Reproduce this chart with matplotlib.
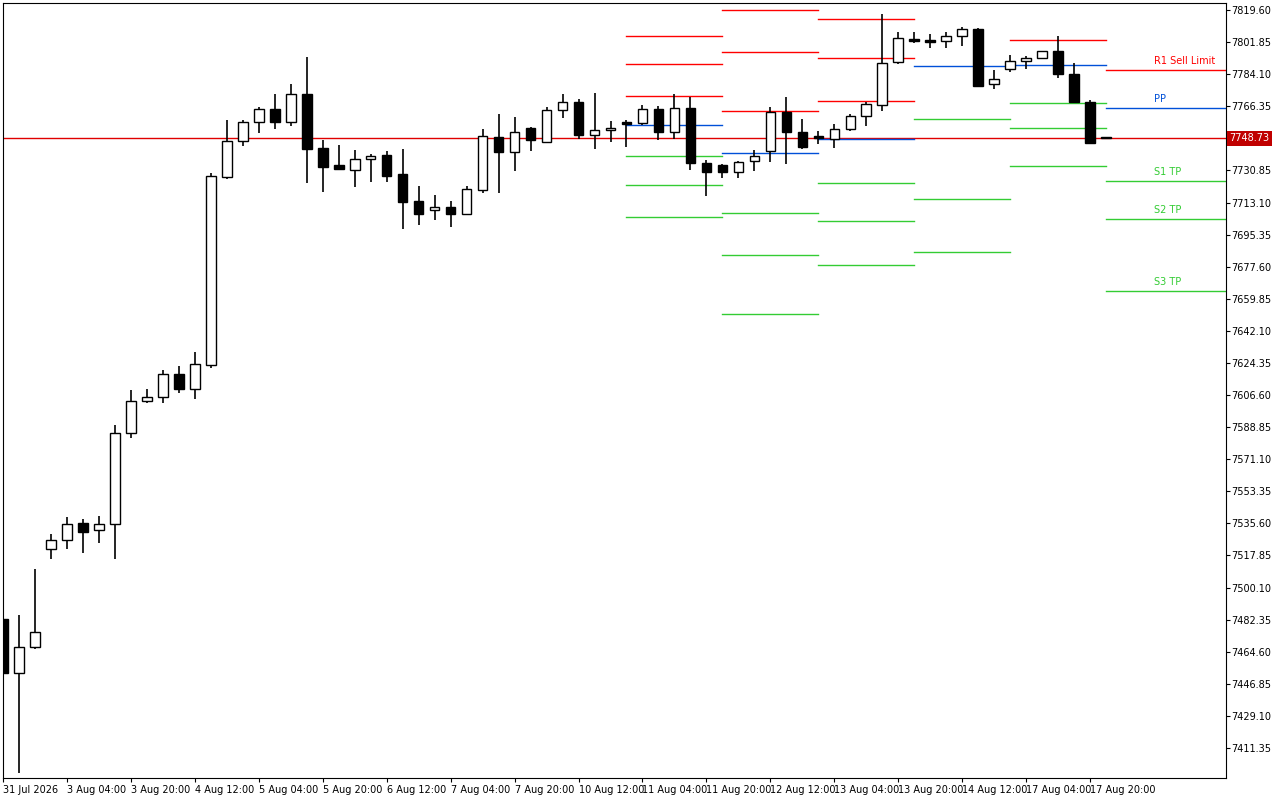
import matplotlib
matplotlib.use("Agg")
import matplotlib.pyplot as plt
from matplotlib.patches import Rectangle

opens = [7482.71,7452.83,7467.22,7521.43,7526.41,7535.81,7531.94,7535.26,7585.60,7603.30,7605.51,7618.24,7609.94,7623.22,
         7727.22,7747.13,7757.64,7764.83,7757.64,7773.13,7743.26,7733.85,7731.09,7737.17,7739.39,7728.87,7713.94,7708.96,7710.62,7706.75,
         7720.02,7749.34,7741.05,7754.32,7746.58,7764.28,7768.70,7750.45,7753.22,7757.64,7757.09,7764.83,7752.11,7765.39,
         7734.96,7733.85,7729.98,7736.07,7741.60,7763.17,7752.11,7749.90,7748.24,7753.77,7760.96,7767.05,7790.83,
         7803.56,7803.00,7802.45,7805.22,7809.09,7778.66,7786.96,7791.39,7793.04,7796.92,7784.19,7768.70,7748.79]
highs = [7482.71,7484.92,7510.36,7529.73,7539.13,7538.02,7539.68,7590.02,7609.39,7609.94,7620.45,7622.66,7630.41,7729.43,
         7758.75,7758.75,7765.94,7773.13,7778.66,7793.60,7747.68,7744.92,7742.15,7739.94,7741.60,7742.70,7722.24,7717.26,7713.94,7722.24,
         7753.77,7762.07,7760.41,7754.87,7765.94,7773.13,7770.36,7773.68,7758.19,7758.75,7767.05,7766.49,7773.13,7771.47,
         7736.62,7734.41,7736.07,7742.15,7765.94,7771.47,7759.30,7752.66,7756.53,7762.07,7768.70,7817.39,7807.43,
         7807.43,7806.32,7807.43,7810.19,7809.64,7786.41,7794.70,7794.15,7797.00,7805.22,7790.28,7769.81,7749.34]
lows = [7452.83,7397.51,7466.11,7515.90,7521.43,7519.22,7524.75,7515.90,7582.83,7602.19,7602.19,7607.73,7604.41,7621.56,
        7726.11,7744.36,7751.56,7753.77,7755.43,7723.90,7718.92,7731.64,7721.68,7724.45,7724.45,7698.45,7700.66,7703.43,7699.56,7706.19,
        7718.36,7718.36,7730.53,7741.60,7746.58,7759.85,7748.24,7742.70,7746.58,7743.81,7755.98,7747.68,7748.24,7731.09,
        7716.70,7726.66,7726.66,7730.53,7735.51,7734.41,7742.70,7745.47,7743.26,7752.66,7755.43,7763.73,7789.73,
        7801.34,7798.58,7798.58,7799.68,7777.00,7775.90,7785.30,7786.96,7793.04,7781.98,7768.70,7746.02,7748.24]
closes = [7452.83,7467.22,7475.51,7526.41,7535.26,7530.83,7535.26,7585.60,7603.30,7605.51,7618.24,7609.94,7623.77,7727.77,
          7747.13,7757.64,7764.83,7757.64,7773.13,7742.70,7732.75,7731.64,7737.17,7738.83,7727.77,7713.39,7706.75,7710.62,7706.75,7720.58,
          7749.90,7741.05,7752.11,7747.68,7764.28,7768.70,7750.45,7753.22,7754.32,7756.53,7764.83,7752.11,7765.39,7734.96,
          7729.98,7729.98,7735.51,7738.83,7763.17,7752.11,7743.81,7748.79,7753.77,7760.96,7767.70,7790.28,7804.11,
          7802.45,7801.90,7805.22,7809.09,7777.56,7781.43,7791.39,7793.04,7796.92,7784.19,7768.70,7746.02,7748.79]

date_labels = ["31 Jul 2026","3 Aug 04:00","3 Aug 20:00","4 Aug 12:00","5 Aug 04:00","5 Aug 20:00",
               "6 Aug 12:00","7 Aug 04:00","7 Aug 20:00","10 Aug 12:00","11 Aug 04:00","11 Aug 20:00",
               "12 Aug 12:00","13 Aug 04:00","13 Aug 20:00","14 Aug 12:00","17 Aug 04:00","17 Aug 20:00"]

# pivot segments: start index, end index, [R3,R2,R1,PP,S1,S2,S3]
seg_bounds = [(39,45),(45,51),(51,57),(57,63),(63,69)]
seg_levels = [
    [7805.22,7789.73,7772.02,7755.98,7738.83,7722.79,7705.09],
    [7819.60,7796.36,7763.73,7740.49,7707.30,7684.07,7651.43],
    [7814.62,7793.04,7769.26,7748.24,7723.90,7702.88,7678.53],
    [7878.0,7850.0,7830.0,7788.62,7759.30,7715.05,7685.73],
    [7838.0,7824.0,7803.00,7789.17,7768.15,7754.32,7733.30],
]
last_bounds = (69, 76.5)
last_names = ["R1 Sell Limit","PP","S1 TP","S2 TP","S3 TP"]
last_levels = [7786.41,7765.39,7725.00,7703.98,7664.15]
current_price = 7748.73
yticks = [7819.60,7801.85,7784.10,7766.35,7748.60,7730.85,7713.10,7695.35,7677.60,7659.85,7642.10,7624.35,
          7606.60,7588.85,7571.10,7553.35,7535.60,7517.85,7500.10,7482.35,7464.60,7446.85,7429.10,7411.35]

RED, BLUE, GREEN = "#ff0000", "#0050d8", "#33cc33"
cols = [RED,RED,RED,BLUE,GREEN,GREEN,GREEN]

fig = plt.figure(figsize=(12.8, 8), dpi=100)
ax = fig.add_axes([3/1280, 22/800, 1223/1280, 775/800])
ax.set_xlim(0.06, 76.5)
ax.set_ylim(7394.75, 7823.47)

ax.axhline(current_price, color="#e00000", lw=1, zorder=1)
for (a, b), lv in zip(seg_bounds, seg_levels):
    for v, c in zip(lv, cols):
        ax.plot([a, b], [v, v], color=c, lw=1, zorder=1)
lcols = [RED, BLUE, GREEN, GREEN, GREEN]
for n, v, c in zip(last_names, last_levels, lcols):
    ax.plot(list(last_bounds), [v, v], color=c, lw=1, zorder=1)
    ax.text(72, v + 2.2, n, color=c, fontsize=7, va="bottom", ha="left")

w = 0.6
for i, (o, h, l, c) in enumerate(zip(opens, highs, lows, closes)):
    ax.plot([i, i], [l, h], color="black", lw=1.2, zorder=2, solid_capstyle="butt")
    bottom = min(o, c)
    hgt = max(abs(c - o), 0.6)
    fc = "white" if c > o else "black"
    ax.add_patch(Rectangle((i - w/2, bottom), w, hgt, facecolor=fc, edgecolor="black", lw=1.0, zorder=3))

ax.yaxis.tick_right()
ax.set_yticks(yticks)
ax.set_yticklabels([f"{v:.2f}" for v in yticks], fontsize=7)
ax.tick_params(axis="y", length=3, pad=1)
ax.set_xticks(list(range(0, 69, 4)))
ax.set_xticklabels(date_labels, fontsize=7, ha="left")
ax.tick_params(axis="x", length=3, pad=2)
for s in ax.spines.values():
    s.set_linewidth(0.8)

ax.text(1.003, (current_price - 7394.75) / (7823.47 - 7394.75), f"{current_price:.2f}",
        transform=ax.transAxes, fontsize=7, color="white", va="center", ha="left",
        bbox=dict(boxstyle="square,pad=0.25", fc="#c00000", ec="none"))

fig.savefig("out.png", dpi=100)
